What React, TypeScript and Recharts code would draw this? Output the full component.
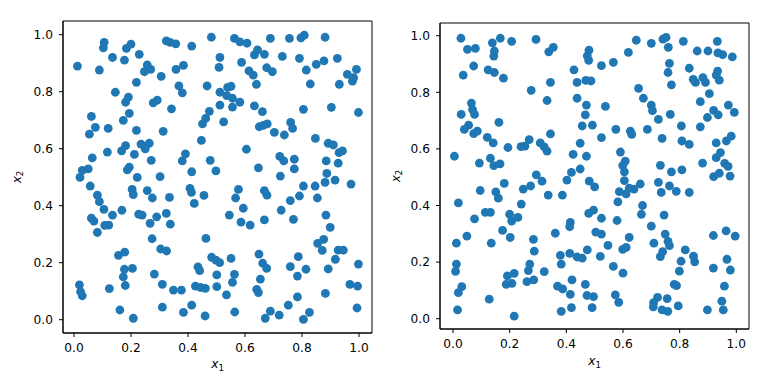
import { ReferenceArea, Scatter, ScatterChart, XAxis, YAxis } from 'recharts'

// uniform samples in the unit square (x1, x2)
const leftPoints: [number, number][] = [
  [0.012, 0.89], [0.089, 0.876], [0.106, 0.973], [0.103, 0.954], [0.135, 0.92], [0.177, 0.911],
  [0.184, 0.952], [0.2, 0.967], [0.229, 0.931], [0.324, 0.978], [0.337, 0.973], [0.357, 0.968],
  [0.413, 0.96], [0.482, 0.991], [0.257, 0.894], [0.247, 0.87], [0.269, 0.878], [0.306, 0.854],
  [0.358, 0.878], [0.384, 0.892], [0.219, 0.833], [0.145, 0.798], [0.191, 0.781], [0.181, 0.763],
  [0.278, 0.761], [0.292, 0.77], [0.342, 0.74], [0.368, 0.82], [0.38, 0.796], [0.467, 0.82],
  [0.475, 0.731], [0.462, 0.706], [0.451, 0.687], [0.061, 0.713], [0.075, 0.675], [0.054, 0.651],
  [0.12, 0.671], [0.194, 0.724], [0.173, 0.699], [0.219, 0.664], [0.313, 0.661], [0.447, 0.629],
  [0.181, 0.611], [0.167, 0.592], [0.235, 0.616], [0.264, 0.619], [0.25, 0.599], [0.212, 0.58],
  [0.117, 0.588], [0.064, 0.568], [0.271, 0.559], [0.391, 0.582], [0.38, 0.557], [0.478, 0.559],
  [0.029, 0.524], [0.05, 0.529], [0.194, 0.535], [0.187, 0.526], [0.413, 0.519], [0.498, 0.522],
  [0.512, 0.92], [0.509, 0.885], [0.512, 0.798], [0.512, 0.753], [0.563, 0.987], [0.582, 0.975],
  [0.607, 0.97], [0.689, 0.987], [0.756, 0.987], [0.796, 0.989], [0.808, 0.998], [0.881, 0.991],
  [0.633, 0.929], [0.644, 0.947], [0.668, 0.931], [0.731, 0.924], [0.791, 0.917], [0.588, 0.903],
  [0.614, 0.873], [0.629, 0.858], [0.676, 0.884], [0.696, 0.87], [0.64, 0.826], [0.85, 0.896],
  [0.877, 0.908], [0.924, 0.917], [0.815, 0.876], [0.829, 0.827], [0.991, 0.878], [0.959, 0.861],
  [0.981, 0.849], [0.977, 0.837], [0.931, 0.826], [0.539, 0.815], [0.551, 0.819], [0.536, 0.786],
  [0.556, 0.777], [0.582, 0.763], [0.556, 0.746], [0.633, 0.75], [0.661, 0.73], [0.805, 0.738],
  [0.903, 0.745], [0.998, 0.727], [0.525, 0.694], [0.65, 0.677], [0.664, 0.682], [0.678, 0.687],
  [0.703, 0.657], [0.738, 0.648], [0.76, 0.692], [0.767, 0.671], [0.847, 0.636], [0.892, 0.619],
  [0.91, 0.613], [0.93, 0.586], [0.942, 0.592], [0.605, 0.598], [0.722, 0.573], [0.736, 0.557],
  [0.773, 0.563], [0.885, 0.557], [0.927, 0.549], [0.647, 0.533], [0.773, 0.529],
  [0.021, 0.499], [0.057, 0.469], [0.082, 0.437], [0.089, 0.414], [0.105, 0.387], [0.135, 0.367],
  [0.061, 0.356], [0.07, 0.346], [0.108, 0.331], [0.122, 0.332], [0.082, 0.306], [0.168, 0.384],
  [0.222, 0.499], [0.204, 0.457], [0.208, 0.439], [0.257, 0.453], [0.275, 0.427], [0.302, 0.502],
  [0.335, 0.429], [0.227, 0.37], [0.239, 0.367], [0.29, 0.361], [0.324, 0.373], [0.267, 0.338],
  [0.338, 0.335], [0.274, 0.284], [0.407, 0.461], [0.412, 0.447], [0.456, 0.436], [0.422, 0.408],
  [0.463, 0.285], [0.304, 0.248], [0.325, 0.241], [0.156, 0.226], [0.178, 0.237], [0.177, 0.177],
  [0.205, 0.18], [0.173, 0.15], [0.18, 0.12], [0.282, 0.16], [0.31, 0.124], [0.349, 0.104],
  [0.377, 0.104], [0.019, 0.122], [0.023, 0.098], [0.029, 0.084], [0.124, 0.109], [0.161, 0.034],
  [0.208, 0.005], [0.31, 0.044], [0.384, 0.026], [0.413, 0.051], [0.46, 0.013], [0.435, 0.185],
  [0.441, 0.172], [0.426, 0.118], [0.444, 0.113], [0.461, 0.11], [0.483, 0.219], [0.498, 0.209],
  [0.501, 0.157], [0.501, 0.116],
  [0.724, 0.504], [0.887, 0.513], [0.916, 0.49], [0.881, 0.482], [0.846, 0.469], [0.805, 0.469],
  [0.972, 0.476], [0.577, 0.457], [0.567, 0.427], [0.668, 0.453], [0.677, 0.437], [0.759, 0.418],
  [0.791, 0.434], [0.854, 0.427], [0.594, 0.391], [0.545, 0.367], [0.586, 0.342], [0.618, 0.332],
  [0.668, 0.35], [0.727, 0.384], [0.77, 0.352], [0.884, 0.367], [0.899, 0.324], [0.855, 0.268],
  [0.876, 0.282], [0.871, 0.243], [0.927, 0.244], [0.945, 0.244], [0.917, 0.212], [0.892, 0.178],
  [0.998, 0.195], [0.551, 0.215], [0.511, 0.2], [0.649, 0.23], [0.662, 0.198], [0.676, 0.18],
  [0.787, 0.221], [0.759, 0.186], [0.814, 0.177], [0.784, 0.153], [0.563, 0.159], [0.556, 0.131],
  [0.654, 0.142], [0.641, 0.106], [0.647, 0.095], [0.535, 0.087], [0.784, 0.08], [0.882, 0.092],
  [0.968, 0.124], [0.995, 0.118], [0.993, 0.041], [0.564, 0.027], [0.689, 0.03], [0.671, 0.005],
  [0.72, 0.016], [0.752, 0.051], [0.805, 0.001], [0.826, 0.026],
]

const rightPoints: [number, number][] = [
  [0.028, 0.991], [0.051, 0.952], [0.079, 0.955], [0.139, 0.975], [0.167, 0.991], [0.207, 0.98],
  [0.146, 0.946], [0.144, 0.928], [0.293, 0.987], [0.338, 0.943], [0.354, 0.959], [0.48, 0.949],
  [0.474, 0.929], [0.479, 0.913], [0.073, 0.893], [0.036, 0.861], [0.124, 0.879], [0.146, 0.87],
  [0.178, 0.85], [0.427, 0.879], [0.438, 0.835], [0.469, 0.842], [0.487, 0.84], [0.344, 0.835],
  [0.276, 0.807], [0.332, 0.771], [0.438, 0.779], [0.471, 0.755], [0.467, 0.72], [0.456, 0.681],
  [0.492, 0.684], [0.065, 0.762], [0.069, 0.739], [0.076, 0.722], [0.029, 0.722], [0.055, 0.684],
  [0.04, 0.669], [0.073, 0.654], [0.086, 0.663], [0.162, 0.694], [0.121, 0.641], [0.142, 0.621],
  [0.194, 0.605], [0.24, 0.608], [0.254, 0.61], [0.269, 0.633], [0.308, 0.621], [0.322, 0.607],
  [0.332, 0.592], [0.344, 0.653], [0.449, 0.62], [0.424, 0.581], [0.471, 0.574], [0.005, 0.574],
  [0.093, 0.55], [0.132, 0.567], [0.144, 0.541], [0.166, 0.547], [0.449, 0.529], [0.418, 0.517],
  [0.647, 0.984], [0.7, 0.973], [0.741, 0.988], [0.752, 0.994], [0.76, 0.959], [0.813, 0.98],
  [0.933, 0.98], [0.619, 0.941], [0.862, 0.946], [0.9, 0.946], [0.935, 0.939], [0.952, 0.933],
  [0.986, 0.925], [0.524, 0.894], [0.566, 0.906], [0.764, 0.902], [0.759, 0.87], [0.834, 0.885],
  [0.934, 0.875], [0.929, 0.861], [0.94, 0.843], [0.848, 0.846], [0.856, 0.835], [0.882, 0.852],
  [0.891, 0.835], [0.771, 0.826], [0.655, 0.814], [0.905, 0.795], [0.672, 0.779], [0.873, 0.767],
  [0.7, 0.755], [0.704, 0.735], [0.538, 0.75], [0.972, 0.755], [0.993, 0.729], [0.92, 0.736],
  [0.936, 0.72], [0.767, 0.722], [0.725, 0.704], [0.898, 0.711], [0.806, 0.681], [0.873, 0.678],
  [0.575, 0.669], [0.626, 0.663], [0.631, 0.651], [0.686, 0.669], [0.524, 0.64], [0.738, 0.637],
  [0.808, 0.628], [0.834, 0.616], [0.929, 0.621], [0.965, 0.628], [0.982, 0.645], [0.591, 0.589],
  [0.608, 0.557], [0.599, 0.541], [0.605, 0.519], [0.732, 0.542], [0.771, 0.519], [0.808, 0.526],
  [0.881, 0.55], [0.929, 0.569], [0.944, 0.587], [0.959, 0.549], [0.971, 0.538],
  [0.294, 0.508], [0.314, 0.486], [0.402, 0.49], [0.481, 0.486], [0.5, 0.466], [0.181, 0.478],
  [0.151, 0.448], [0.16, 0.426], [0.096, 0.453], [0.248, 0.458], [0.274, 0.469], [0.336, 0.437],
  [0.386, 0.437], [0.241, 0.405], [0.019, 0.409], [0.076, 0.353], [0.114, 0.376], [0.132, 0.376],
  [0.2, 0.369], [0.207, 0.345], [0.229, 0.358], [0.175, 0.312], [0.202, 0.287], [0.361, 0.302],
  [0.414, 0.34], [0.412, 0.325], [0.479, 0.372], [0.496, 0.384], [0.504, 0.306], [0.049, 0.292],
  [0.012, 0.267], [0.135, 0.267], [0.284, 0.28], [0.287, 0.239], [0.474, 0.243], [0.412, 0.231],
  [0.379, 0.224], [0.382, 0.193], [0.438, 0.218], [0.456, 0.214], [0.012, 0.193], [0.009, 0.167],
  [0.271, 0.193], [0.266, 0.17], [0.322, 0.166], [0.216, 0.16], [0.192, 0.151], [0.208, 0.125],
  [0.188, 0.121], [0.261, 0.131], [0.285, 0.137], [0.42, 0.137], [0.467, 0.121], [0.369, 0.115],
  [0.387, 0.105], [0.414, 0.086], [0.473, 0.082], [0.496, 0.078], [0.031, 0.113], [0.019, 0.092],
  [0.128, 0.069], [0.016, 0.031], [0.216, 0.009], [0.382, 0.026], [0.418, 0.039], [0.491, 0.039],
  [0.92, 0.502], [0.94, 0.514], [0.978, 0.504], [0.605, 0.488], [0.587, 0.449], [0.611, 0.441],
  [0.622, 0.461], [0.639, 0.458], [0.661, 0.476], [0.725, 0.482], [0.764, 0.469], [0.735, 0.446],
  [0.788, 0.45], [0.834, 0.446], [0.582, 0.413], [0.669, 0.4], [0.665, 0.369], [0.745, 0.366],
  [0.524, 0.355], [0.579, 0.347], [0.7, 0.327], [0.524, 0.299], [0.749, 0.299], [0.622, 0.287],
  [0.709, 0.267], [0.759, 0.273], [0.764, 0.258], [0.547, 0.259], [0.599, 0.245], [0.611, 0.252],
  [0.74, 0.237], [0.732, 0.219], [0.82, 0.243], [0.849, 0.221], [0.853, 0.201], [0.805, 0.203],
  [0.799, 0.168], [0.52, 0.22], [0.566, 0.185], [0.6, 0.161], [0.919, 0.294], [0.964, 0.31],
  [0.996, 0.292], [0.967, 0.21], [0.919, 0.179], [0.979, 0.172], [0.781, 0.121], [0.789, 0.117],
  [0.958, 0.115], [0.573, 0.084], [0.585, 0.058], [0.722, 0.075], [0.708, 0.057], [0.707, 0.042],
  [0.756, 0.071], [0.738, 0.031], [0.758, 0.026], [0.795, 0.045], [0.898, 0.031], [0.949, 0.062],
  [0.954, 0.031],
]

const tickValues = [0, 0.2, 0.4, 0.6, 0.8, 1.0]

const blue = '#1f77b4'
const fontFamily = '"DejaVu Sans", sans-serif'
const fontSize = 12.2

const toRows = (pts: [number, number][]) => pts.map(([x1, x2]) => ({ x1, x2 }))

function Dot(props: any) {
  const { cx, cy } = props
  if (cx == null || cy == null) return null
  return <circle cx={cx} cy={cy} r={4.4} fill={blue} />
}

function MathLabel({ x, y, sub, rotate }: { x: number; y: number; sub: string; rotate?: boolean }) {
  return (
    <text
      x={x}
      y={y}
      textAnchor="middle"
      fontFamily={fontFamily}
      fontSize={fontSize}
      fill="#000"
      transform={rotate ? `rotate(-90 ${x} ${y})` : undefined}
    >
      <tspan fontStyle="italic">x</tspan>
      <tspan fontSize={8.6} dy={2.6}>{sub}</tspan>
    </text>
  )
}

interface PanelProps {
  points: [number, number][]
  left: number
  xDomain: [number, number]
  yDomain: [number, number]
  margin: { top: number; right: number; bottom: number; left: number }
  yWidth: number
  xHeight: number
  yLabelX: number
  xLabelDy: number
}

function Panel({ points, left, xDomain, yDomain, margin, yWidth, xHeight, yLabelX, xLabelDy }: PanelProps) {
  const data = toRows(points)
  const tickStyle = { fill: '#000', fontSize, fontFamily }
  return (
    <div style={{ position: 'absolute', left, top: 0 }}>
      <ScatterChart width={384} height={384} margin={margin}>
        <XAxis
          type="number"
          dataKey="x1"
          domain={xDomain}
          ticks={tickValues}
          allowDataOverflow
          tickFormatter={(v: number) => v.toFixed(1)}
          tick={tickStyle}
          tickSize={4}
          tickMargin={6}
          height={xHeight}
          stroke="#000"
          label={(p: any) => (
            <MathLabel x={p.viewBox.x + p.viewBox.width / 2} y={p.viewBox.y + xLabelDy} sub="1" />
          )}
        />
        <YAxis
          type="number"
          dataKey="x2"
          domain={yDomain}
          ticks={tickValues}
          allowDataOverflow
          tickFormatter={(v: number) => v.toFixed(1)}
          tick={tickStyle}
          tickSize={4}
          tickMargin={6}
          width={yWidth}
          stroke="#000"
          label={(p: any) => (
            <MathLabel x={yLabelX} y={p.viewBox.y + p.viewBox.height / 2} sub="2" rotate />
          )}
        />
        <Scatter data={data} fill={blue} shape={<Dot />} isAnimationActive={false} />
        <ReferenceArea
          x1={xDomain[0]}
          x2={xDomain[1]}
          y1={yDomain[0]}
          y2={yDomain[1]}
          fill="none"
          fillOpacity={0}
          stroke="#000"
          strokeWidth={1}
          ifOverflow="visible"
        />
      </ScatterChart>
    </div>
  )
}

export default function App() {
  return (
    <div style={{ position: 'absolute', left: 0, top: 0, width: 768, height: 384, background: '#fff' }}>
      <Panel
        points={leftPoints}
        left={0}
        xDomain={[-0.0386, 1.0456]}
        yDomain={[-0.0467, 1.048]}
        margin={{ top: 21, right: 12, bottom: 0, left: 0 }}
        yWidth={63}
        xHeight={51}
        yLabelX={20.5}
        xLabelDy={35}
      />
      <Panel
        points={rightPoints}
        left={384}
        xDomain={[-0.0459, 1.0448]}
        yDomain={[-0.0364, 1.0449]}
        margin={{ top: 23, right: 19, bottom: 0, left: 0 }}
        yWidth={56}
        xHeight={55}
        yLabelX={15.5}
        xLabelDy={36}
      />
    </div>
  )
}
